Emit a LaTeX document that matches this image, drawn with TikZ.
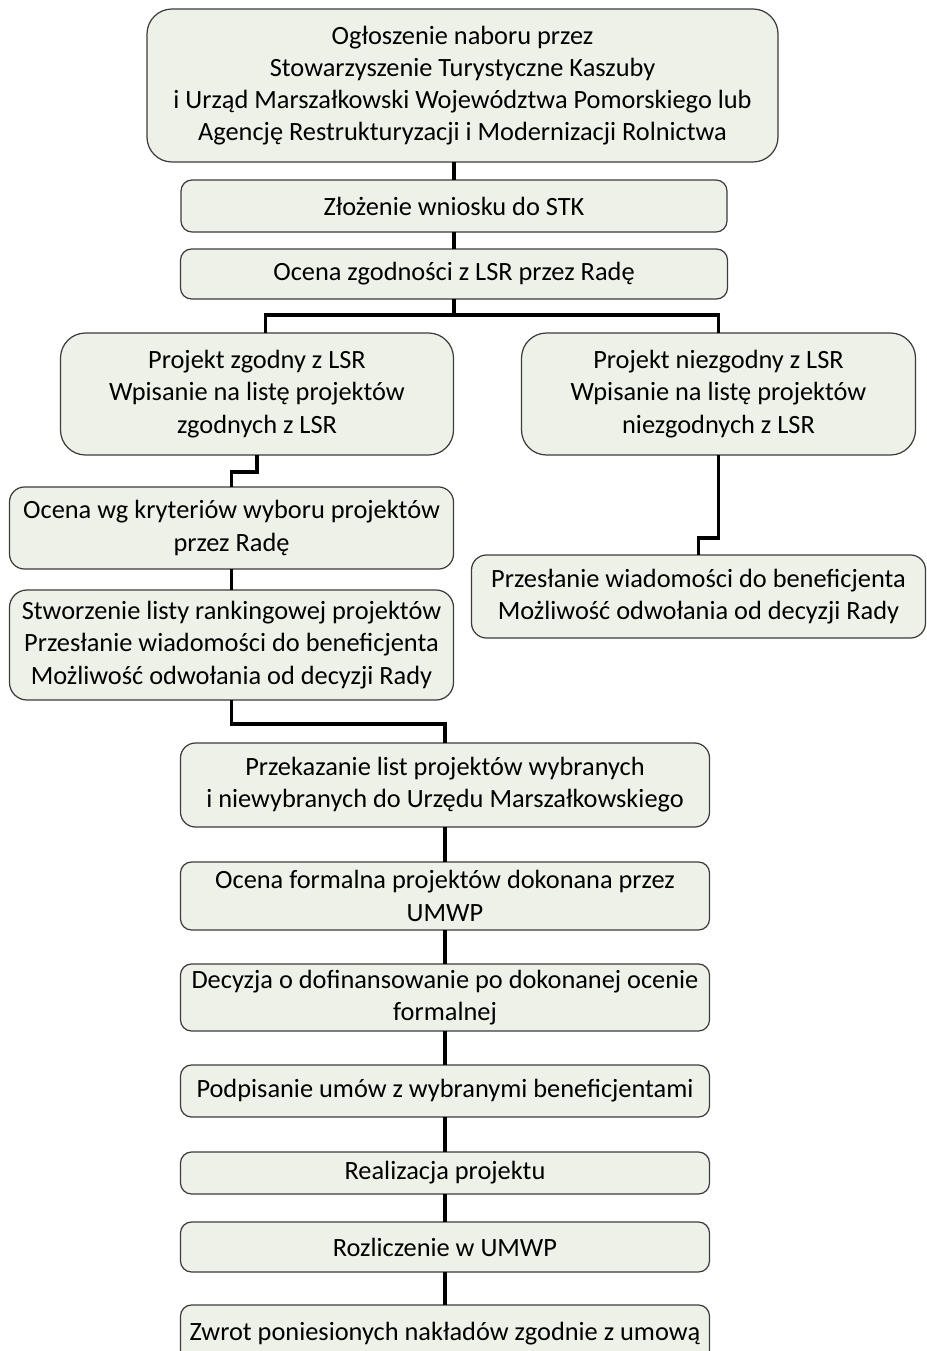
\documentclass[tikz,border=0pt]{standalone}
\usepackage{fontspec}
\setmainfont{Carlito}
\usepackage{xcolor}
\usepackage{tikz}
\usetikzlibrary{positioning, calc}
\definecolor{boxfill}{RGB}{238,241,231}
\definecolor{boxline}{RGB}{60,60,60}
\tikzstyle{flow.box} = [rectangle, fill=boxfill, draw=boxline, line width=0.7pt, outer sep=0pt, rounded corners=0.22cm, align=center, inner sep=0pt, font=\fontsize{15}{18.3}\selectfont]
\tikzstyle{flow.big} = [flow.box, rounded corners=0.5cm]
\tikzstyle{flow.link} = [line width=2.2pt, black]

\begin{document}
\begin{tikzpicture}
\useasboundingbox (0,0) rectangle (18.54,-27.02);

\node[flow.big, minimum width=12.62cm, minimum height=3.06cm] (ogloszenie) at (9.25,-1.71) {Ogłoszenie naboru przez\\Stowarzyszenie Turystyczne Kaszuby\\i Urząd Marszałkowski Województwa Pomorskiego lub\\Agencję Restrukturyzacji i Modernizacji Rolnictwa};
\node[flow.box, minimum width=10.92cm, minimum height=1.04cm, below=0.36cm of ogloszenie, xshift=-0.17cm] (wniosek) {Złożenie wniosku do STK};
\node[flow.box, minimum width=10.94cm, minimum height=1.0cm, below=0.34cm of wniosek] (zgodnosc) {Ocena zgodności z LSR przez Radę};

\node[flow.big, minimum width=7.86cm, minimum height=2.44cm, below=0.68cm of zgodnosc, xshift=-3.94cm] (zgodny) {Projekt zgodny z LSR\\Wpisanie na listę projektów\\zgodnych z LSR};
\node[flow.big, minimum width=7.88cm, minimum height=2.44cm, right=1.36cm of zgodny] (niezgodny) {Projekt niezgodny z LSR\\Wpisanie na listę projektów\\niezgodnych z LSR};

\node[flow.box, rounded corners=0.3cm, minimum width=8.88cm, minimum height=1.64cm, below=0.64cm of zgodny, xshift=-0.51cm] (kryteria) {Ocena wg kryteriów wyboru projektów\\przez Radę};
\node[flow.box, rounded corners=0.35cm, minimum width=8.88cm, minimum height=2.2cm, below=0.42cm of kryteria] (ranking) {Stworzenie listy rankingowej projektów\\Przesłanie wiadomości do beneficjenta\\Możliwość odwołania od decyzji Rady};
\node[flow.box, rounded corners=0.3cm, minimum width=9.08cm, minimum height=1.66cm, below=2.0cm of niezgodny, xshift=-0.4cm] (odwolanie) {Przesłanie wiadomości do beneficjenta\\Możliwość odwołania od decyzji Rady};

\node[flow.box, rounded corners=0.3cm, minimum width=10.58cm, minimum height=1.68cm, below=0.86cm of ranking, xshift=4.27cm] (przekazanie) {Przekazanie list projektów wybranych\\i niewybranych do Urzędu Marszałkowskiego};
\node[flow.box, minimum width=10.58cm, minimum height=1.36cm, below=0.7cm of przekazanie] (formalna) {Ocena formalna projektów dokonana przez\\UMWP};
\node[flow.box, minimum width=10.58cm, minimum height=1.34cm, below=0.68cm of formalna] (decyzja) {Decyzja o dofinansowanie po dokonanej ocenie\\formalnej};
\node[flow.box, minimum width=10.58cm, minimum height=1.04cm, below=0.68cm of decyzja] (umowy) {Podpisanie umów z wybranymi beneficjentami};
\node[flow.box, minimum width=10.58cm, minimum height=0.84cm, below=0.7cm of umowy] (realizacja) {Realizacja projektu};
\node[flow.box, minimum width=10.58cm, minimum height=1.0cm, below=0.56cm of realizacja] (rozliczenie) {Rozliczenie w UMWP};
\node[flow.box, minimum width=10.58cm, minimum height=1.16cm, below=0.66cm of rozliczenie] (zwrot) {Zwrot poniesionych nakładów zgodnie z umową};

\draw[flow.link] (wniosek.north) -- (wniosek.north |- ogloszenie.south);
\draw[flow.link] (wniosek) -- (zgodnosc);
\draw[flow.link] (zgodnosc.south) -- ++(0,-0.32) -| ([xshift=0.17cm]zgodny.north);
\draw[flow.link] (zgodnosc.south) -- ++(0,-0.32) -| (niezgodny.north);
\draw[flow.link] (zgodny.south) -- ++(0,-0.34) -| (kryteria.north);
\draw[flow.link] (kryteria) -- (ranking);
\draw[flow.link] (niezgodny.south) -- ++(0,-1.66) -| (odwolanie.north);
\draw[flow.link] (ranking.south) -- ++(0,-0.48) -| (przekazanie.north);
\draw[flow.link] (przekazanie) -- (formalna);
\draw[flow.link] (formalna) -- (decyzja);
\draw[flow.link] (decyzja) -- (umowy);
\draw[flow.link] (umowy) -- (realizacja);
\draw[flow.link] (realizacja) -- (rozliczenie);
\draw[flow.link] (rozliczenie) -- (zwrot);
\end{tikzpicture}
\end{document}
